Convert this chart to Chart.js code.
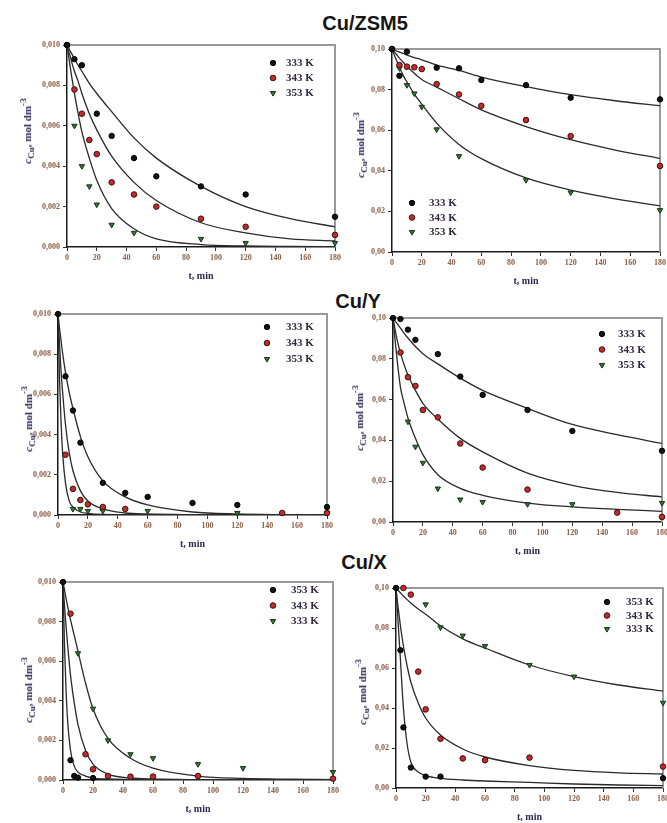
<!DOCTYPE html>
<html><head><meta charset="utf-8">
<script src="https://cdn.jsdelivr.net/npm/chart.js@4.4.0/dist/chart.umd.min.js"></script>
<style>
body{margin:0;background:#fff;width:667px;height:823px;position:relative;overflow:hidden}
canvas{position:absolute}
.ttl{position:absolute;font:bold 20px 'Liberation Sans',Arial,sans-serif;color:#151515;transform:translate(-50%,-50%);white-space:nowrap}
.ylab{position:absolute;font:bold 11px 'Liberation Serif',serif;color:#2a2a55;transform:translate(-50%,-50%) rotate(-90deg);white-space:nowrap}
.ylab i{font-style:italic}
</style></head><body>
<div class="ttl" style="left:365px;top:23px">Cu/ZSM5</div>
<div class="ttl" style="left:358px;top:301px">Cu/Y</div>
<div class="ttl" style="left:364px;top:562px">Cu/X</div>
<script>
// ---------- data ----------
const X_TICKS = [0,20,40,60,80,100,120,140,160,180];
const FIT_T = [0,1,2,3,5,7.5,10,15,20,30,45,60,90,120,150,180];

const SER_ZSM5 = ['333 K','343 K','353 K'];
const SER_Y    = ['333 K','343 K','353 K'];
const SER_X    = ['353 K','343 K','333 K'];

// Cu/ZSM5 left (mol dm-3)
const ZL_P1_T = [0,5,10,20,30,45,60,90,120,180];
const ZL_P1_C = [0.0100,0.0093,0.0090,0.0066,0.0055,0.0044,0.0035,0.0030,0.0026,0.0015];
const ZL_P2_T = [0,5,10,15,20,30,45,60,90,120,180];
const ZL_P2_C = [0.0100,0.0078,0.0066,0.0053,0.0046,0.0032,0.0026,0.0020,0.0014,0.0010,0.0006];
const ZL_P3_T = [0,5,10,15,20,30,45,90,120,180];
const ZL_P3_C = [0.0100,0.0060,0.0040,0.0030,0.0021,0.0011,0.0007,0.0004,0.0002,0.0002];
const ZL_F1 = [0.0100,0.0099,0.0097,0.0096,0.0093,0.0090,0.0087,0.0081,0.0076,0.0067,0.0054,0.0044,0.0030,0.0020,0.0014,0.0010];
const ZL_F2 = [0.0100,0.0097,0.0095,0.0092,0.0087,0.0082,0.0076,0.0066,0.0058,0.0045,0.0032,0.0023,0.0012,0.0007,0.0004,0.0003];
const ZL_F3 = [0.0100,0.0095,0.0090,0.0085,0.0076,0.0066,0.0057,0.0044,0.0033,0.0019,0.0009,0.0004,0.00012,0.00005,0.00003,0.00002];

// Cu/ZSM5 right
const ZR_P1_T = [0,5,10,30,45,60,90,120,180];
const ZR_P1_C = [0.100,0.0868,0.0987,0.0908,0.0905,0.0847,0.0822,0.0760,0.0752];
const ZR_P2_T = [0,5,10,15,20,30,45,60,90,120,180];
const ZR_P2_C = [0.100,0.0921,0.0913,0.0910,0.0901,0.0827,0.0776,0.0720,0.0650,0.0571,0.0424];
const ZR_P3_T = [0,5,10,15,20,30,45,90,120,180];
const ZR_P3_C = [0.100,0.0905,0.0822,0.0781,0.0715,0.0604,0.0472,0.0354,0.0293,0.0206];
const ZR_F1 = [0.100,0.0997,0.0994,0.0990,0.0985,0.0978,0.0970,0.0958,0.0947,0.0920,0.0895,0.0862,0.0815,0.0775,0.0745,0.0720];
const ZR_F2 = [0.100,0.0991,0.0982,0.0973,0.0955,0.0935,0.0915,0.0880,0.0850,0.0812,0.0755,0.0700,0.0618,0.0553,0.0502,0.0461];
const ZR_F3 = [0.100,0.0980,0.0962,0.0944,0.0910,0.0870,0.0838,0.0778,0.0728,0.0635,0.0530,0.0460,0.0365,0.0305,0.0262,0.0227];

// Cu/Y left
const YL_P1_T = [0,5,10,15,30,45,60,90,120,180];
const YL_P1_C = [0.0100,0.0069,0.0052,0.0036,0.0016,0.0011,0.0009,0.0006,0.0005,0.0004];
const YL_P2_T = [5,10,15,20,30,45,150,180];
const YL_P2_C = [0.0030,0.0013,0.00075,0.00053,0.0004,0.0003,0.0001,0.0001];
const YL_P3_T = [10,15,20,30,60,120,180];
const YL_P3_C = [0.0003,0.0003,0.0002,0.0002,0.0002,0.0001,0.0001];
const YL_F1 = [0.0100,0.0093,0.0087,0.0081,0.0071,0.0061,0.0053,0.0039,0.0029,0.0017,0.0009,0.0005,0.00015,0.00005,0.00002,0.00001];
const YL_F2 = [0.0100,0.0085,0.0072,0.0062,0.0045,0.0031,0.0022,0.0012,0.0007,0.0003,0.0001,0.00005,0.00002,0.00001,0.00001,0.00001];
const YL_F3 = [0.0100,0.0068,0.0047,0.0032,0.0016,0.0007,0.0004,0.00015,0.00008,0.00003,0.00002,0.00001,0.00001,0.00001,0.00001,0.00001];

// Cu/Y right
const YR_P1_T = [0,5,10,15,30,45,60,90,120,180];
const YR_P1_C = [0.100,0.0995,0.0943,0.0893,0.0823,0.0713,0.0623,0.0549,0.0446,0.0349];
const YR_P2_T = [5,10,15,20,30,45,60,90,150,180];
const YR_P2_C = [0.0831,0.0710,0.0667,0.0549,0.0513,0.0385,0.0267,0.0159,0.0046,0.0025];
const YR_P3_T = [10,15,20,30,45,60,90,120,180];
const YR_P3_C = [0.0492,0.0369,0.0290,0.0164,0.0110,0.0098,0.0087,0.0087,0.0093];
const YR_F1 = [0.100,0.0990,0.0980,0.0970,0.0950,0.0925,0.0902,0.0860,0.0825,0.0775,0.0705,0.0645,0.0557,0.0478,0.0428,0.0385];
const YR_F2 = [0.100,0.0960,0.0920,0.0885,0.0828,0.0770,0.0721,0.0645,0.0582,0.0505,0.0410,0.0344,0.0240,0.0180,0.0145,0.0123];
const YR_F3 = [0.100,0.0920,0.0850,0.0780,0.0660,0.0580,0.0510,0.0410,0.0330,0.0232,0.0165,0.0131,0.0093,0.0074,0.0062,0.0052];

// Cu/X left (series order 353, 343, 333)
const XL_P1_T = [0,5,7.5,10,20];
const XL_P1_C = [0.0100,0.0010,0.0002,0.00012,0.0001];
const XL_P2_T = [5,15,20,30,45,60,90,180];
const XL_P2_C = [0.0084,0.0013,0.00054,0.0002,0.00017,0.00017,0.0002,0.00007];
const XL_P3_T = [10,20,30,45,60,90,120,180];
const XL_P3_C = [0.0064,0.0036,0.0020,0.0013,0.0011,0.0008,0.0006,0.0004];
const XL_F1 = [0.0100,0.0068,0.0046,0.0031,0.0015,0.0007,0.0004,0.0002,0.0001,0.00005,0.00003,0.00002,0.00001,0.00001,0.00001,0.00001];
const XL_F2 = [0.0100,0.0088,0.0078,0.0069,0.0053,0.0039,0.0028,0.0015,0.0008,0.0003,0.0001,0.00005,0.00002,0.00001,0.00001,0.00001];
const XL_F3 = [0.0100,0.0096,0.0092,0.0088,0.0081,0.0073,0.0065,0.0049,0.0036,0.0021,0.0011,0.0006,0.0002,0.00008,0.00004,0.00002];

// Cu/X right (series order 353, 343, 333)
const XR_P1_T = [0,3,5,10,20,30,180];
const XR_P1_C = [0.100,0.0689,0.0303,0.0102,0.0057,0.0057,0.0049];
const XR_P2_T = [5,10,15,20,30,45,60,90,180];
const XR_P2_C = [0.100,0.0967,0.0582,0.0393,0.0246,0.0148,0.0139,0.0152,0.0107];
const XR_P3_T = [20,30,45,60,90,120,180];
const XR_P3_C = [0.0918,0.0803,0.0762,0.0710,0.0615,0.0557,0.0426];
const XR_F1 = [0.100,0.088,0.076,0.064,0.040,0.022,0.013,0.008,0.0062,0.0048,0.0040,0.0035,0.0028,0.0020,0.0015,0.0012];
const XR_F2 = [0.100,0.093,0.087,0.081,0.071,0.061,0.053,0.0425,0.035,0.0265,0.0195,0.0155,0.0112,0.0088,0.0076,0.0070];
const XR_F3 = [0.100,0.0992,0.0984,0.0976,0.0960,0.0942,0.0925,0.0895,0.0869,0.0811,0.0746,0.0700,0.0615,0.0557,0.0515,0.0484];

// ---------- layout / style ----------
const PANELS = [
  {box:{l:67,t:45,r:335,b:247}, ymax:0.010, ystep:0.002, dec:3, names:SER_ZSM5,
   pts:[[ZL_P1_T,ZL_P1_C],[ZL_P2_T,ZL_P2_C],[ZL_P3_T,ZL_P3_C]], fit:[ZL_F1,ZL_F2,ZL_F3],
   leg:{x:206,tx:219,y:18,gap:15}, ylab:[27,131]},
  {box:{l:392,t:49,r:660,b:252}, ymax:0.10, ystep:0.02, dec:2, names:SER_ZSM5,
   pts:[[ZR_P1_T,ZR_P1_C],[ZR_P2_T,ZR_P2_C],[ZR_P3_T,ZR_P3_C]], fit:[ZR_F1,ZR_F2,ZR_F3],
   leg:{x:20,tx:37,y:154,gap:14.5}, ylab:[360,145]},
  {box:{l:58,t:314,r:327,b:515}, ymax:0.010, ystep:0.002, dec:3, names:SER_Y,
   pts:[[YL_P1_T,YL_P1_C],[YL_P2_T,YL_P2_C],[YL_P3_T,YL_P3_C]], fit:[YL_F1,YL_F2,YL_F3],
   leg:{x:209,tx:228,y:13,gap:16}, ylab:[28,419]},
  {box:{l:393,t:318,r:662,b:522}, ymax:0.10, ystep:0.02, dec:2, names:SER_Y,
   pts:[[YR_P1_T,YR_P1_C],[YR_P2_T,YR_P2_C],[YR_P3_T,YR_P3_C]], fit:[YR_F1,YR_F2,YR_F3],
   leg:{x:209,tx:225,y:16,gap:15.5}, ylab:[359,418]},
  {box:{l:63,t:582,r:333,b:780}, ymax:0.010, ystep:0.002, dec:3, names:SER_X,
   pts:[[XL_P1_T,XL_P1_C],[XL_P2_T,XL_P2_C],[XL_P3_T,XL_P3_C]], fit:[XL_F1,XL_F2,XL_F3],
   leg:{x:210,tx:228,y:8,gap:15.5}, ylab:[28,690]},
  {box:{l:396,t:588,r:663,b:788}, ymax:0.10, ystep:0.02, dec:2, names:SER_X,
   pts:[[XR_P1_T,XR_P1_C],[XR_P2_T,XR_P2_C],[XR_P3_T,XR_P3_C]], fit:[XR_F1,XR_F2,XR_F3],
   leg:{x:211,tx:230,y:14,gap:13.5}, ylab:[362,692]}
];

const MARKERS = [
  {pointStyle:'circle', rotation:0, bg:'#121212', bd:'#000000', r:2.7},
  {pointStyle:'circle', rotation:0, bg:'#c42a2a', bd:'#3a1212', r:2.8},
  {pointStyle:'triangle', rotation:180, bg:'#2f7a34', bd:'#1a331a', r:3.1}
];

const AXL = 50, PADT = 8, PADR = 8, XH = 36;
const TICK_COLOR = '#8a6048';
const LABEL_COLOR = '#2a2a55';

const framePlugin = {
  id:'frame',
  beforeDatasetsDraw(chart){
    const {ctx, chartArea:a} = chart;
    ctx.save();
    ctx.strokeStyle = '#9a9a9a';
    ctx.lineWidth = 2;
    ctx.beginPath();
    ctx.moveTo(a.left, a.top); ctx.lineTo(a.right, a.top); ctx.lineTo(a.right, a.bottom);
    ctx.stroke();
    ctx.restore();
  }
};

const legendPlugin = {
  id:'inLegend',
  afterDatasetsDraw(chart, args, opts){
    if (!opts || !opts.items) return;
    const {ctx, chartArea:a} = chart;
    ctx.save();
    opts.items.forEach((it, i) => {
      const y = a.top + opts.y + i * opts.gap;
      const m = it.m;
      ctx.fillStyle = m.bg; ctx.strokeStyle = m.bd; ctx.lineWidth = 1;
      Chart.helpers.drawPoint(ctx, {pointStyle:m.pointStyle, rotation:m.rotation, radius:m.r, borderWidth:1}, a.left + opts.x, y);
      ctx.fillStyle = '#33283f';
      ctx.font = 'bold 11px "Liberation Serif", serif';
      ctx.textBaseline = 'middle';
      ctx.textAlign = 'left';
      ctx.fillText(it.label, a.left + opts.tx, y + 0.5);
    });
    ctx.restore();
  }
};

PANELS.forEach((p, idx) => {
  const b = p.box;
  const cv = document.createElement('canvas');
  const w = (b.r - b.l) + AXL + PADR;
  const h = (b.b - b.t) + PADT + XH;
  cv.width = w; cv.height = h;
  cv.style.left = (b.l - AXL) + 'px';
  cv.style.top = (b.t - PADT) + 'px';
  cv.style.width = w + 'px'; cv.style.height = h + 'px';
  document.body.appendChild(cv);

  const lab = document.createElement('div');
  lab.className = 'ylab';
  lab.style.left = p.ylab[0] + 'px';
  lab.style.top = p.ylab[1] + 'px';
  lab.innerHTML = '<i>c</i><sub>Cu</sub>, mol dm<sup>-3</sup>';
  document.body.appendChild(lab);

  const datasets = [];
  p.pts.forEach((pr, i) => {
    const m = MARKERS[i];
    datasets.push({
      label: p.names[i],
      data: pr[0].map((t, k) => ({x:t, y:pr[1][k]})),
      showLine:false, order:0, clip:false,
      pointStyle:m.pointStyle, rotation:m.rotation, pointRadius:m.r,
      pointBackgroundColor:m.bg, pointBorderColor:m.bd, pointBorderWidth:1
    });
  });
  p.fit.forEach((f, i) => {
    datasets.push({
      label: p.names[i] + ' fit',
      data: FIT_T.map((t, k) => ({x:t, y:f[k]})),
      showLine:true, order:1, pointRadius:0,
      borderColor:'#2a2a2a', borderWidth:1.3, cubicInterpolationMode:'monotone', fill:false
    });
  });

  new Chart(cv, {
    type:'scatter',
    data:{datasets},
    plugins:[framePlugin, legendPlugin],
    options:{
      responsive:false, animation:false, devicePixelRatio:1,
      layout:{padding:{left:0, top:PADT, right:PADR, bottom:0}},
      plugins:{
        legend:{display:false}, tooltip:{enabled:false},
        inLegend:{x:p.leg.x, tx:p.leg.tx, y:p.leg.y, gap:p.leg.gap,
          items:p.names.map((n, i) => ({label:n, m:MARKERS[i]}))}
      },
      scales:{
        x:{
          type:'linear', min:0, max:180,
          afterBuildTicks(s){ s.ticks = X_TICKS.map(v => ({value:v})); },
          afterFit(s){ s.height = XH; },
          ticks:{color:TICK_COLOR, font:{family:'Liberation Serif', weight:'bold', size:8}, padding:2, maxRotation:0, autoSkip:false},
          grid:{drawOnChartArea:false, drawTicks:true, tickLength:4, color:'#333'},
          border:{color:'#1a1a1a', width:1.5},
          title:{display:true, text:'t, min', color:LABEL_COLOR, font:{family:'Liberation Serif', weight:'bold', size:10}, padding:{top:0, bottom:1}}
        },
        y:{
          type:'linear', min:0, max:p.ymax,
          afterBuildTicks(s){ const n = Math.round(p.ymax / p.ystep); s.ticks = Array.from({length:n+1}, (_, k) => ({value:k * p.ystep})); },
          afterFit(s){ s.width = AXL; },
          ticks:{color:TICK_COLOR, font:{family:'Liberation Serif', weight:'bold', size:8}, padding:3,
            callback:(v) => Number(v).toFixed(p.dec).replace('.', ',')},
          grid:{drawOnChartArea:false, drawTicks:true, tickLength:4, color:'#333'},
          border:{color:'#1a1a1a', width:1.5}
        }
      }
    }
  });
});
</script>
</body></html>
